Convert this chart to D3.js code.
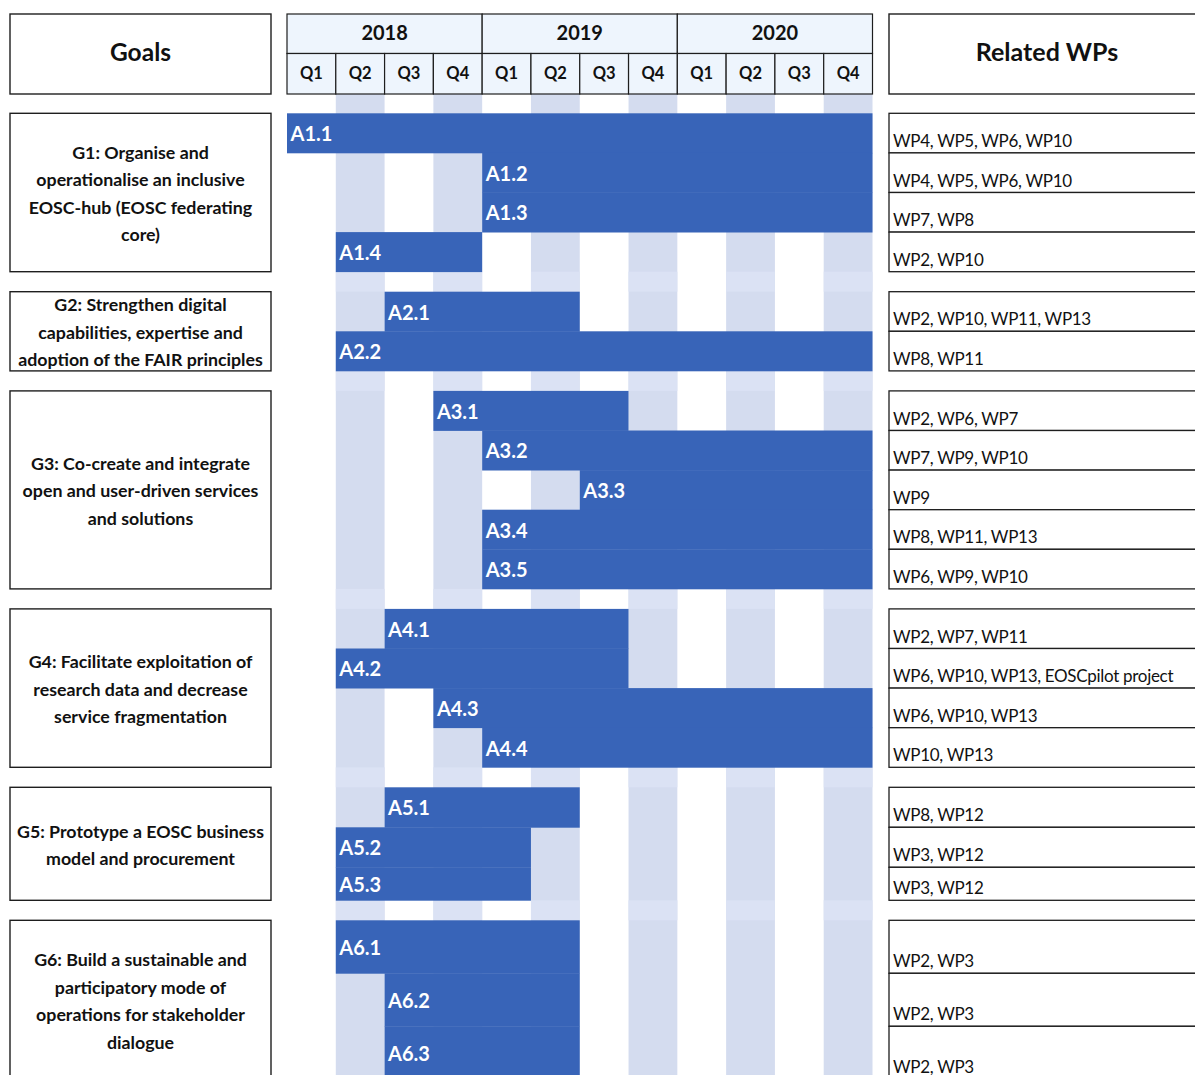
<!DOCTYPE html>
<html>
<head>
<meta charset="utf-8">
<title>Goals timeline</title>
<script src="https://cdn.jsdelivr.net/npm/d3@7/dist/d3.min.js"></script>
<style>
  body { margin: 0; background: #fff; }
  svg { display: block; }
  text { font-family: Lato, "Open Sans", sans-serif; }
</style>
</head>
<body>
<div id="chart"></div>
<script>
// --- data ---
const years = ["2018", "2019", "2020"];
const quarterNames = ["Q1", "Q2", "Q3", "Q4"];

const goalLines = [
  ["G1: Organise and", "operationalise an inclusive", "EOSC-hub (EOSC federating", "core)"],
  ["G2: Strengthen digital", "capabilities, expertise and", "adoption of the FAIR principles"],
  ["G3: Co-create and integrate", "open and user-driven services", "and solutions"],
  ["G4: Facilitate exploitation of", "research data and decrease", "service fragmentation"],
  ["G5: Prototype a EOSC business", "model and procurement"],
  ["G6: Build a sustainable and", "participatory mode of", "operations for stakeholder", "dialogue"]
];

const activities = ["A1.1", "A1.2", "A1.3", "A1.4", "A2.1", "A2.2", "A3.1", "A3.2", "A3.3", "A3.4", "A3.5",
  "A4.1", "A4.2", "A4.3", "A4.4", "A5.1", "A5.2", "A5.3", "A6.1", "A6.2", "A6.3"];
const activityGoal = [0, 0, 0, 0, 1, 1, 2, 2, 2, 2, 2, 3, 3, 3, 3, 4, 4, 4, 5, 5, 5];
const startQuarter = ["2018 Q1", "2019 Q1", "2019 Q1", "2018 Q2", "2018 Q3", "2018 Q2", "2018 Q4", "2019 Q1",
  "2019 Q3", "2019 Q1", "2019 Q1", "2018 Q3", "2018 Q2", "2018 Q4", "2019 Q1", "2018 Q3", "2018 Q2",
  "2018 Q2", "2018 Q2", "2018 Q3", "2018 Q3"];
const endQuarter = ["2020 Q4", "2020 Q4", "2020 Q4", "2018 Q4", "2019 Q2", "2020 Q4", "2019 Q3", "2020 Q4",
  "2020 Q4", "2020 Q4", "2020 Q4", "2019 Q3", "2019 Q3", "2020 Q4", "2020 Q4", "2019 Q2", "2019 Q1",
  "2019 Q1", "2019 Q2", "2019 Q2", "2019 Q2"];
const relatedWPs = ["WP4, WP5, WP6, WP10", "WP4, WP5, WP6, WP10", "WP7, WP8", "WP2, WP10",
  "WP2, WP10, WP11, WP13", "WP8, WP11", "WP2, WP6, WP7", "WP7, WP9, WP10", "WP9", "WP8, WP11, WP13",
  "WP6, WP9, WP10", "WP2, WP7, WP11", "WP6, WP10, WP13, EOSCpilot project", "WP6, WP10, WP13",
  "WP10, WP13", "WP8, WP12", "WP3, WP12", "WP3, WP12", "WP2, WP3", "WP2, WP3", "WP2, WP3"];

// --- layout ---
const W = 1195, H = 1075;
const goalX0 = 10, goalX1 = 271;
const timeX0 = 287, timeX1 = 872.5;
const wpX0 = 889, wpX1 = 1210;
const headTop = 14, yearBottom = 53.5, headBottom = 94;
const firstTop = 113.3, groupGap = 20;
const barColor = "#3864b8", stripeColor = "#d4dcef", gapStripe = "#dbe2f4", headFill = "#eef5fd";
const lineColor = "#1e1e1e";

function rowHeight(goal, k) {
  if (goal === 4) return [40, 40, 33][k];
  if (goal === 5) return 53;
  return 39.6;
}

// row positions, built from the goal membership
const rows = [];
const groups = [];
let y = firstTop;
goalLines.forEach((lines, g) => {
  const top = y;
  let k = 0;
  activities.forEach((a, i) => {
    if (activityGoal[i] !== g) return;
    const h = rowHeight(g, k++);
    rows[i] = { y: y, h: h };
    y += h;
  });
  groups.push({ top: top, bottom: y });
  y += groupGap;
});

const quarters = years.flatMap(yr => quarterNames.map(q => yr + " " + q));
const x = d3.scaleBand().domain(quarters).range([timeX0, timeX1]);
const xYear = d3.scaleBand().domain(years).range([timeX0, timeX1]);

const svg = d3.select("#chart").append("svg")
  .attr("width", W).attr("height", H);

// alternating quarter stripes
svg.append("g").selectAll("rect")
  .data(quarters.filter((q, i) => i % 2 === 1))
  .enter().append("rect")
  .attr("x", d => x(d)).attr("width", x.bandwidth())
  .attr("y", headBottom).attr("height", H - headBottom)
  .attr("fill", stripeColor);

// lighter stripes in the gaps between goals
const gaps = groups.slice(0, -1).map((g, i) => ({ top: g.bottom, bottom: groups[i + 1].top }));
svg.append("g").selectAll("g")
  .data(gaps).enter().append("g")
  .each(function (gp) {
    d3.select(this).selectAll("rect")
      .data(quarters.filter((q, i) => i % 2 === 1))
      .enter().append("rect")
      .attr("x", d => x(d)).attr("width", x.bandwidth())
      .attr("y", gp.top).attr("height", gp.bottom - gp.top)
      .attr("fill", gapStripe);
  });

// bars
const bars = svg.append("g");
bars.selectAll("rect")
  .data(activities)
  .enter().append("rect")
  .attr("x", (d, i) => x(startQuarter[i]))
  .attr("width", (d, i) => x(endQuarter[i]) + x.bandwidth() - x(startQuarter[i]))
  .attr("y", (d, i) => rows[i].y)
  .attr("height", (d, i) => rows[i].h + 0.4)
  .attr("fill", barColor);

bars.selectAll("text")
  .data(activities)
  .enter().append("text")
  .attr("x", (d, i) => x(startQuarter[i]) + 3.5)
  .attr("y", (d, i) => rows[i].y + rows[i].h / 2 + 3)
  .attr("dominant-baseline", "middle")
  .attr("fill", "#fff")
  .attr("font-weight", "bold")
  .attr("font-size", 20)
  .text(d => d);

// header: goals
svg.append("rect")
  .attr("x", goalX0).attr("y", headTop)
  .attr("width", goalX1 - goalX0).attr("height", headBottom - headTop)
  .attr("fill", "#fff").attr("stroke", lineColor).attr("stroke-width", 1.4);
svg.append("text")
  .attr("x", (goalX0 + goalX1) / 2).attr("y", (headTop + headBottom) / 2 + 1)
  .attr("text-anchor", "middle").attr("dominant-baseline", "middle")
  .attr("font-weight", "bold").attr("font-size", 24.5).attr("fill", "#111")
  .text("Goals");

// header: timeline
const head = svg.append("g");
head.selectAll("rect.year")
  .data(years).enter().append("rect")
  .attr("class", "year")
  .attr("x", d => xYear(d)).attr("width", xYear.bandwidth())
  .attr("y", headTop).attr("height", yearBottom - headTop)
  .attr("fill", headFill).attr("stroke", lineColor).attr("stroke-width", 1.2);
head.selectAll("text.year")
  .data(years).enter().append("text")
  .attr("class", "year")
  .attr("x", d => xYear(d) + xYear.bandwidth() / 2)
  .attr("y", (headTop + yearBottom) / 2 + 1.5)
  .attr("text-anchor", "middle").attr("dominant-baseline", "middle")
  .attr("font-weight", "bold").attr("font-size", 20).attr("fill", "#111")
  .text(d => d);
head.selectAll("rect.q")
  .data(quarters).enter().append("rect")
  .attr("class", "q")
  .attr("x", d => x(d)).attr("width", x.bandwidth())
  .attr("y", yearBottom).attr("height", headBottom - yearBottom)
  .attr("fill", headFill).attr("stroke", lineColor).attr("stroke-width", 1.2);
head.selectAll("text.q")
  .data(quarters).enter().append("text")
  .attr("class", "q")
  .attr("x", d => x(d) + x.bandwidth() / 2)
  .attr("y", (yearBottom + headBottom) / 2 + 1.5)
  .attr("text-anchor", "middle").attr("dominant-baseline", "middle")
  .attr("font-weight", "bold").attr("font-size", 16.5).attr("fill", "#111")
  .text(d => d.split(" ")[1]);

// header: related WPs
svg.append("rect")
  .attr("x", wpX0).attr("y", headTop)
  .attr("width", wpX1 - wpX0).attr("height", headBottom - headTop)
  .attr("fill", "#fff").attr("stroke", lineColor).attr("stroke-width", 1.4);
svg.append("text")
  .attr("x", 1047).attr("y", (headTop + headBottom) / 2 + 1)
  .attr("text-anchor", "middle").attr("dominant-baseline", "middle")
  .attr("font-weight", "bold").attr("font-size", 25).attr("fill", "#111")
  .text("Related WPs");

// goal boxes
const gBox = svg.append("g").selectAll("g")
  .data(goalLines).enter().append("g");
gBox.append("rect")
  .attr("x", goalX0).attr("width", goalX1 - goalX0)
  .attr("y", (d, g) => groups[g].top)
  .attr("height", (d, g) => groups[g].bottom - groups[g].top)
  .attr("fill", "#fff").attr("stroke", lineColor).attr("stroke-width", 1.4);
gBox.each(function (lines, g) {
  const cy = (groups[g].top + groups[g].bottom) / 2 + 3;
  const lh = 27.5;
  d3.select(this).selectAll("text")
    .data(lines).enter().append("text")
    .attr("x", (goalX0 + goalX1) / 2)
    .attr("y", (d, k) => cy + (k - (lines.length - 1) / 2) * lh)
    .attr("text-anchor", "middle").attr("dominant-baseline", "middle")
    .attr("font-weight", "bold").attr("font-size", 17.8).attr("fill", "#111")
    .text(d => d);
});

// related WP cells
const wp = svg.append("g");
wp.selectAll("rect")
  .data(relatedWPs).enter().append("rect")
  .attr("x", wpX0).attr("width", wpX1 - wpX0)
  .attr("y", (d, i) => rows[i].y).attr("height", (d, i) => rows[i].h)
  .attr("fill", "#fff").attr("stroke", lineColor).attr("stroke-width", 1.3);
wp.selectAll("text")
  .data(relatedWPs).enter().append("text")
  .attr("x", wpX0 + 4)
  .attr("y", (d, i) => rows[i].y + rows[i].h - 6)
  .attr("font-size", 17).attr("letter-spacing", -0.3).attr("fill", "#111")
  .text(d => d);
</script>
</body>
</html>
